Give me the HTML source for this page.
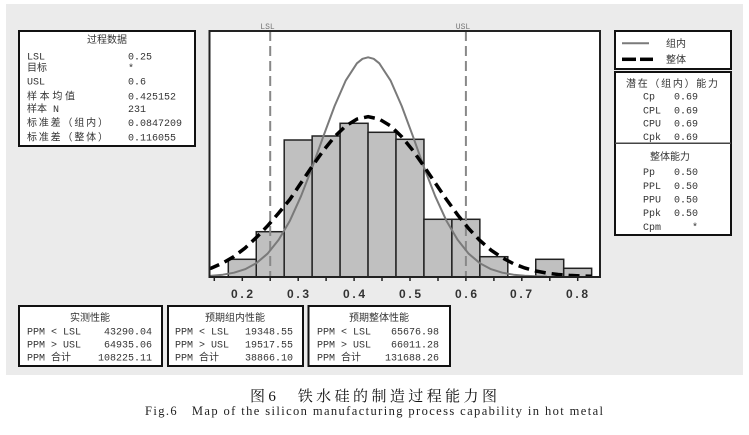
<!DOCTYPE html>
<html>
<head>
<meta charset="utf-8">
<style>
html,body{margin:0;padding:0;background:#fff;}
svg{display:block;}
.m{font-family:"Liberation Mono","Noto Sans CJK SC",monospace;font-size:10px;fill:#333;}
.c{font-family:"Liberation Mono","Noto Sans CJK SC",monospace;font-size:10px;fill:#333;}
.t{font-family:"Liberation Sans",sans-serif;font-size:12px;font-weight:bold;fill:#333;}
</style>
</head>
<body>
<svg width="749" height="435" viewBox="0 0 749 435" xmlns="http://www.w3.org/2000/svg">
  <rect x="0" y="0" width="749" height="435" fill="#fff"/>
  <rect x="6" y="4" width="737" height="371" fill="#ebebeb"/>

  <!-- Left process data box -->
  <rect x="19" y="31" width="176" height="115" fill="#fff" stroke="#111" stroke-width="2"/>
  <text class="c" x="107" y="43" text-anchor="middle">过程数据</text>
  <text class="c" x="27" y="59.5">LSL</text><text class="m" x="128" y="59.5">0.25</text>
  <text class="c" x="27" y="71">目标</text><text class="m" x="128" y="71">*</text>
  <text class="c" x="27" y="84.5">USL</text><text class="m" x="128" y="84.5">0.6</text>
  <text class="c" x="27" y="99.5" textLength="48">样本均值</text><text class="m" x="128" y="99.5">0.425152</text>
  <text class="c" x="27" y="112">样本 N</text><text class="m" x="128" y="112">231</text>
  <text class="c" x="27" y="126" textLength="81">标准差（组内）</text><text class="m" x="128" y="126">0.0847209</text>
  <text class="c" x="27" y="140.5" textLength="81">标准差（整体）</text><text class="m" x="128" y="140.5">0.116055</text>

  <!-- Plot frame -->
  <rect x="209.5" y="31" width="390.5" height="246" fill="#fff"/>

  <!-- Bars -->
  <g fill="#c0c0c0" stroke="#222" stroke-width="1.5">
    <rect x="228.3" y="259.3" width="27.95" height="17.7"/>
    <rect x="256.25" y="231.7" width="27.95" height="45.3"/>
    <rect x="284.2" y="140" width="27.95" height="137"/>
    <rect x="312.15" y="136" width="27.95" height="141"/>
    <rect x="340.1" y="123.3" width="27.95" height="153.7"/>
    <rect x="368.05" y="132.3" width="27.95" height="144.7"/>
    <rect x="396" y="139.3" width="27.95" height="137.7"/>
    <rect x="423.95" y="219.3" width="27.95" height="57.7"/>
    <rect x="451.9" y="219.3" width="27.95" height="57.7"/>
    <rect x="479.85" y="256.7" width="27.95" height="20.3"/>
    <rect x="535.75" y="259.3" width="27.95" height="17.7"/>
    <rect x="563.7" y="268.3" width="27.95" height="8.7"/>
  </g>

  <!-- LSL / USL lines -->
  <g stroke="#888" stroke-width="2" stroke-dasharray="10,5">
    <line x1="270.2" y1="31" x2="270.2" y2="277"/>
    <line x1="465.9" y1="31" x2="465.9" y2="277"/>
  </g>
  <text x="267.5" y="29" text-anchor="middle" font-family="Liberation Mono,monospace" font-size="8" fill="#777">LSL</text>
  <text x="463" y="29" text-anchor="middle" font-family="Liberation Mono,monospace" font-size="8" fill="#777">USL</text>

  <!-- Within curve (solid gray) -->
  <polyline fill="none" stroke="#7a7a7a" stroke-width="2" stroke-linejoin="round"
    points="209,276.1 211.6,275.8 222.8,274.7 234.0,272.7 245.1,269.2 256.3,263.2 267.5,253.7 278.7,239.8 289.9,220.7 301.0,196.2 312.2,167.4 323.4,136.2 334.6,106.0 345.8,80.4 356.9,63.3 362.5,58.8 368.1,57.3 373.7,58.8 379.3,63.3 390.5,80.4 401.7,106.0 412.9,136.2 424.0,167.4 435.2,196.2 446.4,220.7 457.6,239.8 468.7,253.7 479.9,263.2 491.1,269.2 502.3,272.7 513.5,274.7 524.7,275.8 535.8,276.3 547,276.6"/>

  <!-- Overall curve (dashed black) -->
  <polyline fill="none" stroke="#000" stroke-width="3.5" stroke-dasharray="11,6"
    points="209,268.8 211.6,268.0 222.8,263.0 234.0,256.5 245.1,248.0 256.3,237.5 267.5,226.0 278.7,213.0 289.9,199.4 301.0,182.9 312.2,166.3 323.4,150.5 334.6,136.7 345.8,125.9 356.9,119.1 368.1,116.7 379.3,119.1 390.5,125.9 401.7,136.7 412.9,150.5 424.0,166.3 435.2,182.9 446.4,199.4 457.6,214.8 468.7,228.6 479.9,240.5 491.1,250.2 502.3,257.8 513.5,263.7 524.7,268.0 535.8,271.0 547.0,273.1 558.2,274.5 569.4,275.4 580.5,275.95 591.7,276.3"/>

  <!-- Frame border -->
  <rect x="209.5" y="31" width="390.5" height="246" fill="none" stroke="#222" stroke-width="2"/>

  <!-- Ticks -->
  <g stroke="#222" stroke-width="1.5">
    <line x1="214.3" y1="277" x2="214.3" y2="281"/>
    <line x1="242.3" y1="277" x2="242.3" y2="281"/>
    <line x1="270.2" y1="277" x2="270.2" y2="281"/>
    <line x1="298.2" y1="277" x2="298.2" y2="281"/>
    <line x1="326.1" y1="277" x2="326.1" y2="281"/>
    <line x1="354.1" y1="277" x2="354.1" y2="281"/>
    <line x1="382.0" y1="277" x2="382.0" y2="281"/>
    <line x1="410.0" y1="277" x2="410.0" y2="281"/>
    <line x1="438.0" y1="277" x2="438.0" y2="281"/>
    <line x1="465.9" y1="277" x2="465.9" y2="281"/>
    <line x1="493.9" y1="277" x2="493.9" y2="281"/>
    <line x1="521.8" y1="277" x2="521.8" y2="281"/>
    <line x1="549.8" y1="277" x2="549.8" y2="281"/>
    <line x1="577.7" y1="277" x2="577.7" y2="281"/>
  </g>
  <g class="t">
    <text class="t" x="231" y="298" textLength="22">0.2</text>
    <text class="t" x="287" y="298" textLength="22">0.3</text>
    <text class="t" x="343" y="298" textLength="22">0.4</text>
    <text class="t" x="399" y="298" textLength="22">0.5</text>
    <text class="t" x="455" y="298" textLength="22">0.6</text>
    <text class="t" x="510" y="298" textLength="22">0.7</text>
    <text class="t" x="566" y="298" textLength="22">0.8</text>
  </g>

  <!-- Legend box -->
  <rect x="615" y="31" width="116" height="38" fill="#fff" stroke="#111" stroke-width="2"/>
  <line x1="622" y1="43.3" x2="649" y2="43.3" stroke="#7a7a7a" stroke-width="2"/>
  <text class="c" x="666" y="47">组内</text>
  <line x1="622" y1="59.3" x2="636" y2="59.3" stroke="#000" stroke-width="3.5"/>
  <line x1="640" y1="59.3" x2="653" y2="59.3" stroke="#000" stroke-width="3.5"/>
  <text class="c" x="666" y="63">整体</text>

  <!-- Capability box -->
  <rect x="615" y="72" width="116" height="163" fill="#fff" stroke="#111" stroke-width="2"/>
  <line x1="615" y1="143.3" x2="731" y2="143.3" stroke="#444" stroke-width="1.5"/>
  <text class="c" x="672" y="87" text-anchor="middle" textLength="92">潜在（组内）能力</text>
  <text class="m" x="643" y="99.5">Cp</text><text class="m" x="674" y="99.5">0.69</text>
  <text class="m" x="643" y="113.5">CPL</text><text class="m" x="674" y="113.5">0.69</text>
  <text class="m" x="643" y="126.5">CPU</text><text class="m" x="674" y="126.5">0.69</text>
  <text class="m" x="643" y="140">Cpk</text><text class="m" x="674" y="140">0.69</text>
  <text class="c" x="670" y="160" text-anchor="middle">整体能力</text>
  <text class="m" x="643" y="175">Pp</text><text class="m" x="674" y="175">0.50</text>
  <text class="m" x="643" y="189">PPL</text><text class="m" x="674" y="189">0.50</text>
  <text class="m" x="643" y="202.5">PPU</text><text class="m" x="674" y="202.5">0.50</text>
  <text class="m" x="643" y="216">Ppk</text><text class="m" x="674" y="216">0.50</text>
  <text class="m" x="643" y="230">Cpm</text><text class="m" x="692" y="230">*</text>

  <!-- Bottom boxes -->
  <rect x="19" y="306" width="143" height="60" fill="#fff" stroke="#111" stroke-width="2"/>
  <text class="c" x="90" y="321" text-anchor="middle">实测性能</text>
  <text class="m" x="27" y="334.5">PPM &lt; LSL</text><text class="m" x="152" y="334.5" text-anchor="end">43290.04</text>
  <text class="m" x="27" y="347.5">PPM &gt; USL</text><text class="m" x="152" y="347.5" text-anchor="end">64935.06</text>
  <text class="c" x="27" y="360.5">PPM 合计</text><text class="m" x="152" y="360.5" text-anchor="end">108225.11</text>

  <rect x="168" y="306" width="135" height="60" fill="#fff" stroke="#111" stroke-width="2"/>
  <text class="c" x="235" y="321" text-anchor="middle">预期组内性能</text>
  <text class="m" x="175" y="334.5">PPM &lt; LSL</text><text class="m" x="293" y="334.5" text-anchor="end">19348.55</text>
  <text class="m" x="175" y="347.5">PPM &gt; USL</text><text class="m" x="293" y="347.5" text-anchor="end">19517.55</text>
  <text class="c" x="175" y="360.5">PPM 合计</text><text class="m" x="293" y="360.5" text-anchor="end">38866.10</text>

  <rect x="308.5" y="306" width="141.5" height="60" fill="#fff" stroke="#111" stroke-width="2"/>
  <text class="c" x="379" y="321" text-anchor="middle">预期整体性能</text>
  <text class="m" x="317" y="334.5">PPM &lt; LSL</text><text class="m" x="439" y="334.5" text-anchor="end">65676.98</text>
  <text class="m" x="317" y="347.5">PPM &gt; USL</text><text class="m" x="439" y="347.5" text-anchor="end">66011.28</text>
  <text class="c" x="317" y="360.5">PPM 合计</text><text class="m" x="439" y="360.5" text-anchor="end">131688.26</text>

  <!-- Captions -->
  <text x="250" y="401" font-family="Liberation Serif,'Noto Serif CJK SC',serif" font-size="15" fill="#111" textLength="247">图6　铁水硅的制造过程能力图</text>
  <text x="145" y="415" font-family="Liberation Serif,serif" font-size="12.5" fill="#222" textLength="458">Fig.6　Map of the silicon manufacturing process capability in hot metal</text>
</svg>
</body>
</html>
